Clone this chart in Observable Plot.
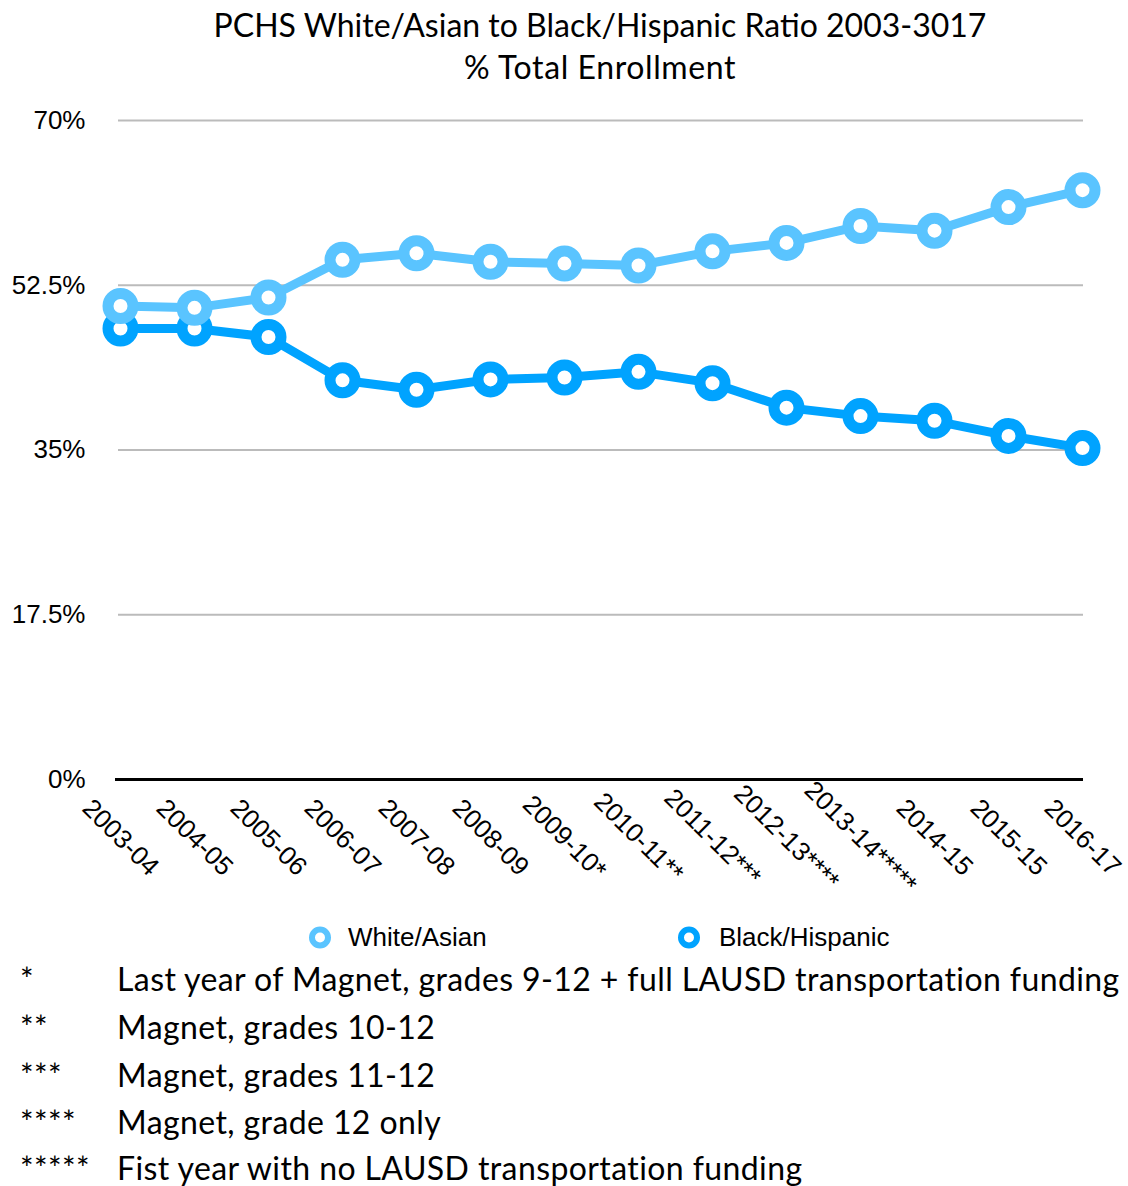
<!DOCTYPE html>
<html>
<head>
<meta charset="utf-8">
<script src="https://cdn.jsdelivr.net/npm/d3@7"></script>
<script src="https://cdn.jsdelivr.net/npm/@observablehq/plot@0.6"></script>
<style>
  html, body { margin: 0; padding: 0; background: #fff; }
  body { position: relative; width: 1128px; height: 1186px; overflow: hidden; color: #000; }
  .title { position: absolute; left: 72px; width: 1056px; text-align: center; font-family: Lato, "Noto Sans", sans-serif; font-size: 32px; line-height: 42px; white-space: nowrap; }
  #chart { position: absolute; left: 0; top: 80px; }
  .legend-item { position: absolute; top: 937px; transform: translateY(-50%); display: flex; align-items: center; font-family: "Liberation Sans", Arial, sans-serif; font-size: 26px; white-space: nowrap; }
  .fn { position: absolute; font-family: Lato, "Noto Sans", sans-serif; font-size: 32px; letter-spacing: 0.4px; line-height: 40px; white-space: nowrap; transform: translateY(-50%); }
</style>
</head>
<body>
<div class="title" id="t1" style="top:4px"></div>
<div class="title" id="t2" style="top:46px; letter-spacing:0.6px"></div>
<div id="chart"></div>
<div id="legend"></div>
<div id="notes"></div>
<script>
// ---- data ----
const titleLines = ["PCHS White/Asian to Black/Hispanic Ratio 2003-3017", "% Total Enrollment"];
const years = ["2003-04","2004-05","2005-06","2006-07","2007-08","2008-09","2009-10*","2010-11**","2011-12***","2012-13****","2013-14*****","2014-15","2015-15","2016-17"];
const whiteAsian    = [50.3, 50.1, 51.2, 55.2, 55.9, 55.0, 54.8, 54.6, 56.1, 57.0, 58.8, 58.3, 60.8, 62.6];
const blackHispanic = [47.9, 47.9, 47.0, 42.4, 41.4, 42.5, 42.7, 43.3, 42.1, 39.5, 38.6, 38.1, 36.5, 35.2];
const seriesNames = ["White/Asian", "Black/Hispanic"];
const seriesColors = ["#5AC4FF", "#00A3FF"];
const yTicks = [0, 17.5, 35, 52.5, 70];
const footnoteMarks = ["*", "**", "***", "****", "*****"];
const footnoteTexts = [
  "Last year of Magnet, grades 9-12 + full LAUSD transportation funding",
  "Magnet, grades 10-12",
  "Magnet, grades 11-12",
  "Magnet, grade 12 only",
  "Fist year with no LAUSD transportation funding"
];

// ---- build ----
document.getElementById("t1").textContent = titleLines[0];
document.getElementById("t2").textContent = titleLines[1];

const seriesValues = [whiteAsian, blackHispanic];
const rows = seriesNames.flatMap((s, k) => years.map((yr, i) => ({year: yr, series: s, value: seriesValues[k][i]})));
const drawOrder = ["Black/Hispanic", "White/Asian"];

const chart = Plot.plot({
  width: 1128,
  height: 840,
  marginLeft: 118,
  marginRight: 45,
  marginTop: 40,
  marginBottom: 141,
  style: {fontFamily: "'Liberation Sans', Arial, sans-serif", color: "#000", background: "transparent", overflow: "visible"},
  x: {type: "point", domain: years, padding: 0, label: null},
  y: {domain: [0, 70], label: null},
  color: {domain: seriesNames, range: seriesColors},
  marks: [
    Plot.ruleY(yTicks.filter(d => d > 0), {stroke: "#BBBBBB", strokeWidth: 2}),
    Plot.ruleY([0], {stroke: "#000", strokeWidth: 3, insetLeft: -3}),
    Plot.axisY({ticks: yTicks, tickSize: 0, tickPadding: 33, fontSize: 26, tickFormat: d => d + "%", label: null}),
    Plot.axisX({tickSize: 0, tickRotate: 45, textAnchor: "middle", lineAnchor: "middle", tickPadding: 58, fontSize: 26, label: null}),
    ...drawOrder.flatMap(s => {
      const d = rows.filter(r => r.series === s);
      return [
        Plot.line(d, {x: "year", y: "value", stroke: "series", strokeWidth: 9, strokeLinejoin: "round"}),
        Plot.dot(d, {x: "year", y: "value", stroke: "series", r: 12.5, strokeWidth: 11, fill: "#fff"})
      ];
    })
  ]
});
document.getElementById("chart").appendChild(chart);

// legend
const legend = document.getElementById("legend");
const legendPos = [{marker: 320, text: 348}, {marker: 689, text: 719}];
seriesNames.forEach((s, i) => {
  const item = document.createElement("div");
  item.className = "legend-item";
  item.style.left = (legendPos[i].marker - 12) + "px";
  const gap = legendPos[i].text - legendPos[i].marker - 12;
  item.innerHTML = `<svg width="24" height="24" style="margin-right:${gap}px"><circle cx="12" cy="12" r="8" fill="#fff" stroke="${seriesColors[i]}" stroke-width="6"/></svg><span>${s}</span>`;
  legend.appendChild(item);
});

// footnotes
const notes = document.getElementById("notes");
const noteY = [979, 1027, 1075, 1122, 1168];
footnoteMarks.forEach((m, i) => {
  const a = document.createElement("div");
  a.className = "fn"; a.style.left = "20px"; a.style.top = noteY[i] + "px"; a.textContent = m;
  const b = document.createElement("div");
  b.className = "fn"; b.style.left = "117px"; b.style.top = noteY[i] + "px"; b.textContent = footnoteTexts[i];
  notes.appendChild(a); notes.appendChild(b);
});
</script>
</body>
</html>
